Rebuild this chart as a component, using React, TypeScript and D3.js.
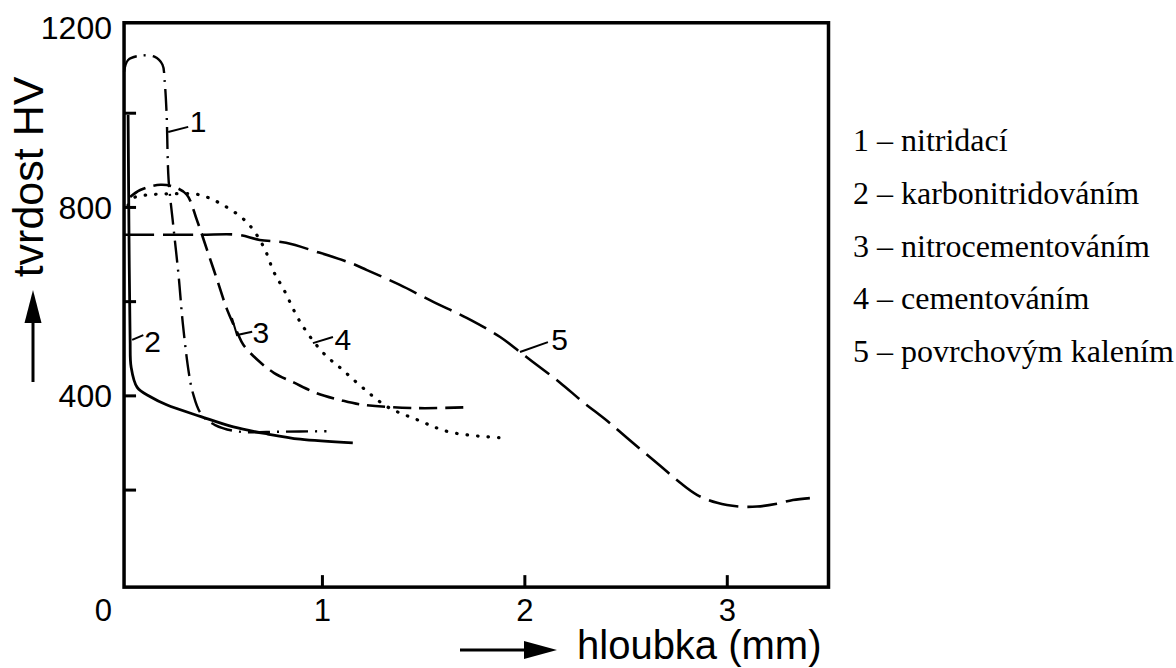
import * as d3 from "d3";

// depth in mm, hardness in HV
const nitridace = [
  [0.02, 1088], [0.04, 1113], [0.1, 1122], [0.17, 1120], [0.21, 1103], [0.22, 1071],
  [0.23, 1001], [0.24, 859], [0.26, 774], [0.29, 653], [0.31, 555], [0.34, 449],
  [0.36, 406], [0.4, 362], [0.47, 338], [0.59, 324], [0.79, 324], [1.02, 325],
];
const karbonitridace = [
  [0.04, 996], [0.045, 710], [0.05, 518], [0.055, 461], [0.085, 418], [0.15, 398],
  [0.23, 381], [0.4, 356], [0.56, 334], [0.73, 319], [0.89, 308], [1.15, 300],
];
const nitrocementace = [
  [0.05, 822], [0.1, 837], [0.2, 848], [0.27, 843], [0.33, 827], [0.38, 773],
  [0.43, 710], [0.48, 646], [0.53, 582], [0.58, 534], [0.61, 508], [0.68, 476],
  [0.76, 449], [0.86, 428], [0.97, 406], [1.09, 391], [1.2, 381], [1.47, 374], [1.73, 376],
];
const cementace = [
  [0.04, 805], [0.075, 822], [0.15, 827], [0.25, 829], [0.39, 827], [0.51, 805],
  [0.63, 767], [0.71, 716], [0.76, 663], [0.81, 625], [0.89, 557], [1.0, 493],
  [1.1, 455], [1.2, 417], [1.32, 377], [1.47, 349], [1.63, 323], [1.88, 311],
];
const kaleni = [
  [0.02, 742], [0.2, 742], [0.4, 742], [0.58, 742], [0.69, 731], [0.82, 725],
  [0.97, 706], [1.14, 682], [1.22, 667], [1.38, 636], [1.55, 599], [1.715, 565],
  [1.878, 525], [1.976, 493], [2.04, 472], [2.174, 428], [2.287, 387], [2.406, 347],
  [2.504, 311], [2.667, 252], [2.766, 216], [2.85, 190], [2.95, 173], [3.063, 165],
  [3.147, 165], [3.245, 171], [3.324, 179], [3.408, 183],
];

const xTicks = [1, 2, 3];
const yTicks = [200, 400, 600, 800, 1000];
const yTickLabels = [400, 800, 1200];

const legendItems = [
  "1 – nitridací",
  "2 – karbonitridováním",
  "3 – nitrocementováním",
  "4 – cementováním",
  "5 – povrchovým kalením",
];

// curve number labels: leader polyline and text anchor (mm, HV)
const curveLabels = [
  { text: "1", leader: [[0.238, 960], [0.337, 971]], at: [0.345, 960] },
  { text: "2", leader: [[0.06, 519], [0.115, 529]], at: [0.12, 493] },
  { text: "3", leader: [[0.553, 565], [0.578, 529], [0.653, 536]], at: [0.655, 512] },
  { text: "4", leader: [[0.953, 512], [1.052, 525]], at: [1.06, 497] },
  { text: "5", leader: [[1.976, 493], [2.114, 514]], at: [2.13, 497] },
];

const W = 1176;
const H = 668;

const x = d3.scaleLinear().domain([0, 3.5]).range([120, 828.5]);
const y = d3.scaleLinear().domain([0, 1200]).range([584.3, 19]);

const line = d3
  .line<number[]>()
  .x((d) => x(d[0]))
  .y((d) => y(d[1]))
  .curve(d3.curveCatmullRom.alpha(0.5));

const leaderLine = d3
  .line<number[]>()
  .x((d) => x(d[0]))
  .y((d) => y(d[1]));

const series = [
  { data: nitridace, dash: "22 7 2 7", width: 2.4 },
  { data: karbonitridace, dash: "none", width: 2.8 },
  { data: nitrocementace, dash: "18 8", width: 2.6 },
  { data: cementace, dash: "0.5 10", width: 3.2 },
  { data: kaleni, dash: "30 9", width: 2.6 },
];

const sans = "'Liberation Sans', Arial, Helvetica, sans-serif";
const serif = "'Liberation Serif', 'Times New Roman', serif";

export default function App() {
  const left = x(0.02);
  const right = x(3.5);
  const top = y(1192);
  const bottom = y(-6);

  return (
    <svg
      width={W}
      height={H}
      style={{ position: "absolute", left: 0, top: 0, background: "#fff" }}
    >
      <rect width={W} height={H} fill="#fff" />

      {/* curves */}
      {series.map((s, i) => (
        <path
          key={i}
          d={line(s.data) ?? ""}
          fill="none"
          stroke="#000"
          strokeWidth={s.width}
          strokeDasharray={s.dash}
          strokeLinecap={i === 3 ? "round" : "butt"}
        />
      ))}

      {/* curve labels */}
      {curveLabels.map((c) => (
        <g key={c.text}>
          <path d={leaderLine(c.leader) ?? ""} fill="none" stroke="#000" strokeWidth={2} />
          <text
            x={x(c.at[0])}
            y={y(c.at[1])}
            fontFamily={sans}
            fontSize={30}
            fill="#000"
          >
            {c.text}
          </text>
        </g>
      ))}

      {/* frame */}
      <rect
        x={left}
        y={top}
        width={right - left}
        height={bottom - top}
        fill="none"
        stroke="#000"
        strokeWidth={3.5}
      />

      {/* inward ticks */}
      {yTicks.map((t) => (
        <line key={t} x1={left} x2={left + 12} y1={y(t)} y2={y(t)} stroke="#000" strokeWidth={3} />
      ))}
      {xTicks.map((t) => (
        <line key={t} x1={x(t)} x2={x(t)} y1={bottom} y2={bottom - 12} stroke="#000" strokeWidth={3} />
      ))}

      {/* tick labels */}
      {yTickLabels.map((t) => (
        <text
          key={t}
          x={112}
          y={t === 1200 ? top + 5 : y(t)}
          dy="0.36em"
          textAnchor="end"
          fontFamily={sans}
          fontSize={32}
          fill="#000"
        >
          {t}
        </text>
      ))}
      <text x={112} y={610} dy="0.36em" textAnchor="end" fontFamily={sans} fontSize={31}>
        0
      </text>
      {xTicks.map((t) => (
        <text
          key={t}
          x={x(t)}
          y={610}
          dy="0.36em"
          textAnchor="middle"
          fontFamily={sans}
          fontSize={31}
          fill="#000"
        >
          {t}
        </text>
      ))}

      {/* y axis title with arrow */}
      <text
        x={43}
        y={177}
        transform="rotate(-90, 43, 177)"
        textAnchor="middle"
        fontFamily={sans}
        fontSize={43}
        fill="#000"
      >
        tvrdost HV
      </text>
      <line x1={33} x2={33} y1={382} y2={318} stroke="#000" strokeWidth={3} />
      <polygon points="33,290 24.5,323 41.5,323" fill="#000" />

      {/* x axis title with arrow */}
      <line x1={460} x2={528} y1={650} y2={650} stroke="#000" strokeWidth={3} />
      <polygon points="557,650 524,641 524,659" fill="#000" />
      <text x={577} y={659} fontFamily={sans} fontSize={40} fill="#000">
        hloubka (mm)
      </text>

      {/* legend */}
      {legendItems.map((t, i) => (
        <text key={t} x={853} y={151 + i * 52.75} fontFamily={serif} fontSize={32} fill="#000">
          {t}
        </text>
      ))}
    </svg>
  );
}
